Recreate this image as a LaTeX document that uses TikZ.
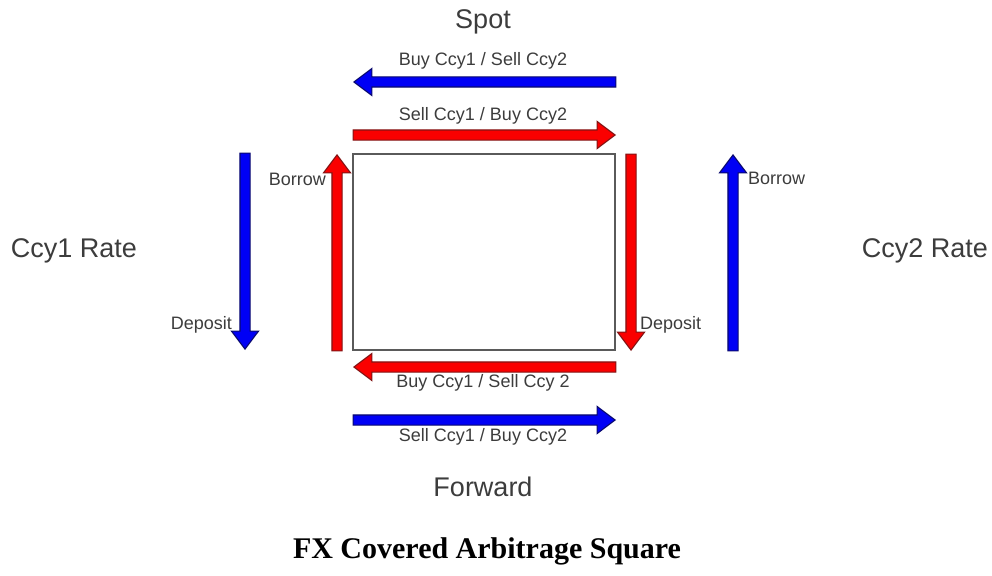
\documentclass[tikz,border=0pt]{standalone}
\usepackage{fontspec}
\setmainfont{Liberation Serif}
\setsansfont{Liberation Sans}
\usetikzlibrary{shapes.arrows}
\definecolor{arblue}{RGB}{0,0,245}
\definecolor{arblueline}{RGB}{10,10,110}
\definecolor{arred}{RGB}{250,0,0}
\definecolor{arredline}{RGB}{130,20,20}
\definecolor{labgray}{RGB}{60,60,60}
\definecolor{boxgray}{RGB}{90,90,90}
\begin{document}
\begin{tikzpicture}[x=1pt,y=-1pt,
  fat/.style={single arrow, single arrow head extend=8.5pt,
    single arrow tip angle=74, inner xsep=0pt, inner ysep=4.5pt, line width=1.1pt, anchor=tip},
  hfat/.style={fat, minimum height=262pt},
  vfat/.style={fat, minimum height=196pt},
  bluearr/.style={fill=arblue, draw=arblueline},
  redarr/.style={fill=arred, draw=arredline},
  small/.style={font=\sffamily\fontsize{18}{20}\selectfont, text=labgray, inner sep=0pt},
  big/.style={font=\sffamily\fontsize{27}{29}\selectfont, text=labgray, inner sep=0pt},
  titlestyle/.style={font=\rmfamily\bfseries\fontsize{30}{33}\selectfont, text=black, inner sep=0pt}]
\useasboundingbox (0,0) rectangle (992,575);

% central square
\node[draw=boxgray, line width=1.1pt, minimum width=262pt, minimum height=196pt, inner sep=0pt] (sq) at (484,252) {};

% horizontal arrows
\node[hfat, bluearr, rotate=180] (spotbuy) at (353,82) {};
\node[hfat, redarr] (spotsell) at (616,135) {};
\node[hfat, redarr, rotate=180] (fwdbuy) at (353,367) {};
\node[hfat, bluearr] (fwdsell) at (616,420) {};

% vertical arrows
\node[vfat, bluearr, rotate=-90] (c1dep) at (245,350) {};
\node[vfat, redarr, rotate=90] (c1bor) at (337,154) {};
\node[vfat, redarr, rotate=-90] (c2dep) at (631,351) {};
\node[vfat, bluearr, rotate=90] (c2bor) at (733,154) {};

% labels
\node[small] (l1) at (483,61) {Buy Ccy1 / Sell Ccy2};
\node[small] (l2) at (483,116) {Sell Ccy1 / Buy Ccy2};
\node[small] (l3) at (483,383) {Buy Ccy1 / Sell Ccy 2};
\node[small] (l4) at (483,437) {Sell Ccy1 / Buy Ccy2};
\node[small, anchor=east] (l5) at (232,325) {Deposit};
\node[small, anchor=east] (l6) at (326,179) {Borrow};
\node[small, anchor=west] (l7) at (640,325) {Deposit};
\node[small, anchor=west] (l8) at (748,178) {Borrow};

\node[big] (spot) at (483,22) {Spot};
\node[big] (fwd) at (483,487) {Forward};
\node[big] (r1) at (74,251) {Ccy1 Rate};
\node[big] (r2) at (925,251) {Ccy2 Rate};

\node[titlestyle] (title) at (487,551) {FX Covered Arbitrage Square};
\end{tikzpicture}
\end{document}
